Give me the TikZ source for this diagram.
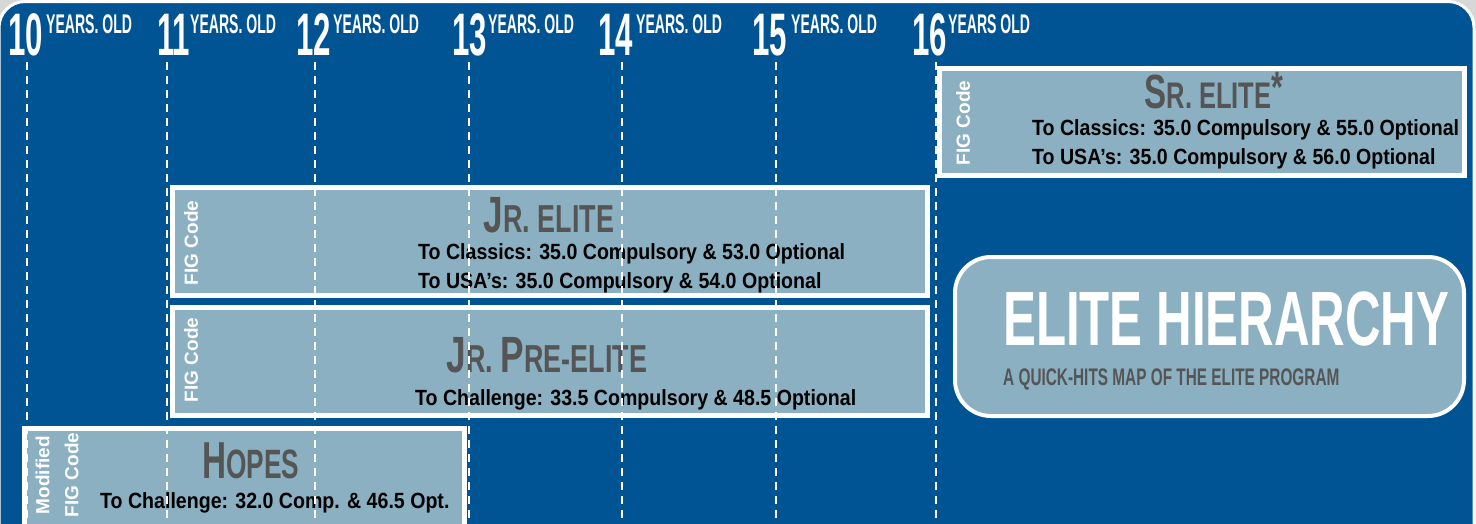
\documentclass[tikz,border=0pt]{standalone}
\usepackage{fontspec}
\setmainfont{Liberation Sans}
\newfontfamily\hdrfont{Liberation Sans}[FakeStretch=0.52]
\newfontfamily\headfont{Liberation Sans}[FakeStretch=0.64]
\newfontfamily\titlefont{Liberation Sans}[FakeStretch=0.69]
\newfontfamily\bodyfont{Liberation Sans}[FakeStretch=0.89]
\definecolor{bgblue}{RGB}{0,84,147}
\definecolor{boxblue}{RGB}{138,176,194}
\definecolor{darkgr}{RGB}{85,85,85}
\definecolor{outgray}{RGB}{215,215,215}
\newcommand{\bigL}[1]{{\fontsize{51}{51}\selectfont #1}}
\newcommand{\smL}[1]{{\fontsize{39}{39}\selectfont #1}}
\begin{document}
\begin{tikzpicture}[x=1pt,y=-1pt,
  box/.style={draw=white, line width=5pt, fill=boxblue, inner sep=0pt, outer sep=0pt, anchor=north west},
  dashline/.style={white, line width=2pt, dash pattern=on 8pt off 6pt},
  hnum/.style={text=white, anchor=base west, inner sep=0pt, font=\hdrfont\bfseries\fontsize{60}{60}\selectfont},
  hyrs/.style={text=white, anchor=base west, inner sep=0pt, font=\hdrfont\bfseries\fontsize{27}{27}\selectfont},
  head/.style={text=darkgr, anchor=base, inner sep=0pt, font=\titlefont\bfseries},
  body/.style={text=black, anchor=base west, inner sep=0pt, font=\bodyfont\bfseries\fontsize{22}{22}\selectfont},
  fig/.style={text=white, rotate=90, inner sep=0pt, align=center, font=\bfseries\fontsize{19}{29}\selectfont},
]
\useasboundingbox (0,0) rectangle (1476,523);
\fill[outgray] (0,0) rectangle (1476,523);
\draw[white, line width=3pt, fill=bgblue, rounded corners=26pt] (-1,560) -- (-1,1.5) -- (1474,1.5) -- (1474,560);

% boxes
\node[box, minimum width=525pt, minimum height=107pt] (sr) at (939.5,68.5) {};
\node[box, minimum width=755pt, minimum height=108pt] (jr) at (172.5,187.5) {};
\node[box, minimum width=755pt, minimum height=108pt] (jrpre) at (172.5,307.5) {};
\node[box, minimum width=440pt, minimum height=120pt] (hopes) at (24.5,428.5) {};
\node[box, line width=4pt, rounded corners=36pt, minimum width=509pt, minimum height=159pt] (eh) at (955,257) {};

% header
\node[hnum] (n10) at (8,55) {10};
\node[hyrs] (y10) at (46,33) {YEARS. OLD};
\node[hnum] (n11) at (157,55) {11};
\node[hyrs] (y11) at (190,33) {YEARS. OLD};
\node[hnum] (n12) at (296,55) {12};
\node[hyrs] (y12) at (333,33) {YEARS. OLD};
\node[hnum] (n13) at (452,55) {13};
\node[hyrs] (y13) at (488,33) {YEARS. OLD};
\node[hnum] (n14) at (598,55) {14};
\node[hyrs] (y14) at (636,33) {YEARS. OLD};
\node[hnum] (n15) at (752,55) {15};
\node[hyrs] (y15) at (791,33) {YEARS. OLD};
\node[hnum] (n16) at (912,55) {16};
\node[hyrs] (y16) at (948,33) {YEARS OLD};

% Sr elite
\node[fig] (srfig) at (963,123) {FIG Code};
\node[head] (srh) at (1214,108) {{\fontsize{48}{48}\selectfont S}{\fontsize{37}{37}\selectfont R. ELITE}\raisebox{6pt}{\fontsize{44}{44}\selectfont *}};
\node[body] (sr1) at (1032,135) {To Classics: 35.0 Compulsory \& 55.0 Optional};
\node[body] (sr2) at (1032,164) {To USA’s: 35.0 Compulsory \& 56.0 Optional};

% Jr elite
\node[fig] (jrfig) at (191,243) {FIG Code};
\node[head] (jrh) at (549,232) {\bigL{J}\smL{R. ELITE}};
\node[body] (jr1) at (418,259) {To Classics: 35.0 Compulsory \& 53.0 Optional};
\node[body] (jr2) at (418,288) {To USA’s: 35.0 Compulsory \& 54.0 Optional};

% Jr pre-elite
\node[fig] (jpfig) at (191,360) {FIG Code};
\node[head] (jph) at (547,372) {\bigL{J}\smL{R. }\bigL{P}\smL{RE-ELITE}};
\node[body] (jp1) at (415,405) {To Challenge: 33.5 Compulsory \& 48.5 Optional};

% Hopes
\node[fig] (hfig) at (57,475) {Modified\\FIG Code};
\node[head, font=\headfont\bfseries] (hh) at (251,478) {{\fontsize{52}{52}\selectfont H}{\fontsize{41}{41}\selectfont OPES}};
\node[body] (h1) at (100,508) {To Challenge: 32.0 Comp. \& 46.5 Opt.};

% Elite hierarchy
\node[text=white, anchor=base west, inner sep=0pt, font=\headfont\bfseries\fontsize{77}{77}\selectfont] (eht) at (1003,345) {ELITE HIERARCHY};
\node[text=darkgr, anchor=base west, inner sep=0pt, font=\headfont\bfseries\fontsize{24}{24}\selectfont] (ehs) at (1003,385) {A QUICK-HITS MAP OF THE ELITE PROGRAM};

% dashed age lines (drawn over everything)
\foreach \n/\x in {10/27,11/167,12/315,13/469,14/622,15/776,16/936}{
  \coordinate (t\n) at (\x,62);
  \coordinate (b\n) at (\x,523);
}
\foreach \n in {10,11,12,13,14,15,16}{
  \draw[dashline] (t\n) -- (b\n);
}
\end{tikzpicture}
\end{document}
